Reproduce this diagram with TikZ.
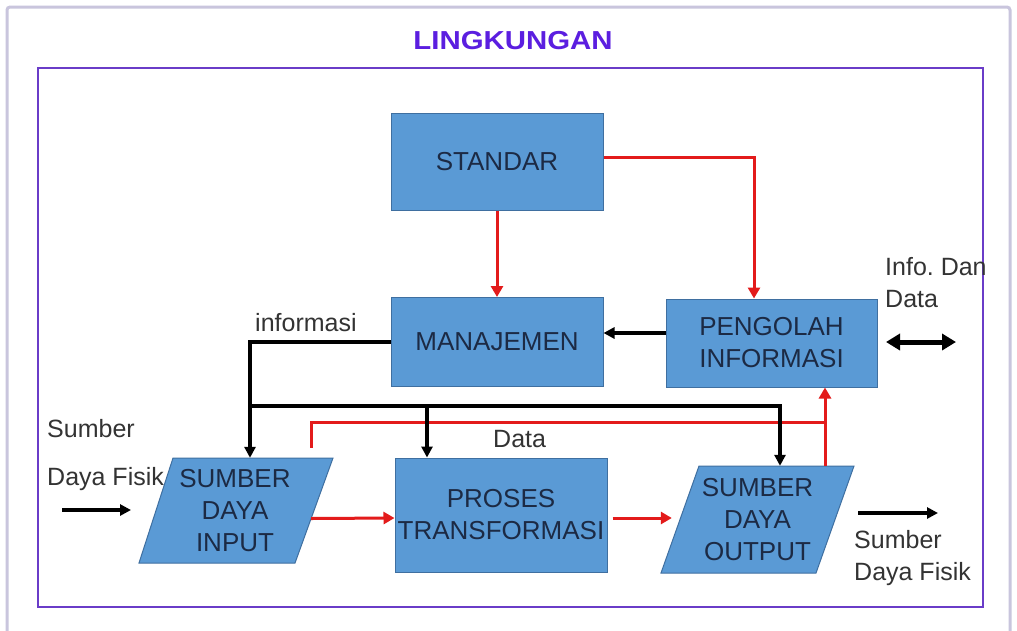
\documentclass[tikz,border=0pt]{standalone}
\usepackage{fontspec}
\usepackage{graphicx}
\setmainfont{Liberation Sans}
\usetikzlibrary{arrows.meta}
\frenchspacing
\definecolor{boxfill}{HTML}{5A9AD5}
\definecolor{boxline}{HTML}{3F6FA0}
\definecolor{boxtext}{HTML}{1C2A44}
\definecolor{lbltext}{HTML}{333333}
\definecolor{redln}{HTML}{E31B1B}
\definecolor{titlecol}{HTML}{5B1EE0}
\definecolor{innerframe}{HTML}{6A3CC8}
\definecolor{outerframe}{HTML}{C9C5DD}
\tikzset{
  blockbox/.style={draw=boxline, line width=1pt, fill=boxfill, inner sep=0pt,
    align=center, text=boxtext, font=\fontsize{26}{32}\selectfont},
  textbox/.style={inner sep=0pt, align=center, text=boxtext, font=\fontsize{26}{32}\selectfont},
  shapefill/.style={draw=boxline, line width=1pt, fill=boxfill},
  lbl/.style={inner sep=0pt, text=lbltext, font=\fontsize{25}{30}\selectfont, anchor=base west},
  blkarrow/.style={draw=black, line width=3.5pt, -{Triangle[length=11pt,width=11pt]}},
  redarrow/.style={draw=redln, line width=3pt, -{Triangle[length=11pt,width=12pt]}},
  redline/.style={draw=redln, line width=3pt},
}
\begin{document}
\begin{tikzpicture}[x=1pt,y=-1pt]
\useasboundingbox (0,0) rectangle (1017,630);
\fill[white] (0,0) rectangle (1017,630);
% frames
\draw[outerframe, line width=3pt, rounded corners=3pt] (7,660) -- (7,7) -- (1010,7) -- (1010,660);
\draw[innerframe, line width=2.2pt] (38,68) rectangle (983,607);
\node[inner sep=0pt, text=titlecol, font=\fontsize{26}{30}\selectfont\bfseries] (title) at (513,41) {\scalebox{1.13}[1]{LINGKUNGAN}};

% parallelograms
\draw[shapefill] (173,458) -- (333,458) -- (295,563) -- (139,563) -- cycle;
\draw[shapefill] (699,466) -- (854,466) -- (816,573) -- (661,573) -- cycle;

% blocks
\node[blockbox, minimum width=212pt, minimum height=97pt] (std) at (497,161.5) {STANDAR};
\node[blockbox, minimum width=212pt, minimum height=89pt] (man) at (497,342) {MANAJEMEN};
\node[blockbox, minimum width=211pt, minimum height=88pt] (peng) at (771.5,343) {PENGOLAH\\INFORMASI};
\node[blockbox, minimum width=212pt, minimum height=114pt] (proc) at (501,515) {PROSES\\TRANSFORMASI};
\node[textbox, minimum width=152pt, minimum height=105pt] (inp) at (235,510.5) {SUMBER\\DAYA\\INPUT};
\node[textbox, minimum width=171pt, minimum height=107pt] (out) at (757.5,519.5) {SUMBER\\DAYA\\OUTPUT};

% labels
\node[lbl] (linfo) at (255,331) {informasi};
\node[lbl] (ldata) at (493,447) {Data};
\node[lbl] (lsum1) at (47,437) {Sumber};
\node[lbl] (ldaya1) at (47,485) {Daya Fisik};
\node[lbl] (lsum2) at (854,548) {Sumber};
\node[lbl] (ldaya2) at (854,580) {Daya Fisik};
\node[lbl] (linfo2) at (885,275) {Info. Dan};
\node[lbl] (ldata2) at (885,307) {Data};

% junction coordinates
\coordinate (j1) at (250,406);
\coordinate (j2) at (427,406);
\coordinate (j3) at (825,422);
\coordinate (inA) at (62,510);
\coordinate (inB) at (131,510);
\coordinate (outA) at (858,513);
\coordinate (outB) at (938,513);
\coordinate (dA) at (886,342);
\coordinate (dB) at (956,342);

% red connectors
\draw[redarrow] ([yshift=4.5pt]std.east) -| ([xshift=-17.5pt]peng.north);
\draw[redarrow] (std.south) -- (man.north);
\draw[redline] ([xshift=76pt,yshift=10pt]inp.north) |- (j3);
\draw[redarrow] ([xshift=67.5pt]out.north) -- ([xshift=53.5pt]peng.south);
\draw[redarrow] ([yshift=-8pt]inp.east) -- ([yshift=-3pt]proc.west);
\draw[redarrow, shorten <=5pt] ([yshift=-3pt]proc.east) -- ([yshift=1.5pt]out.west);

% black connectors
\draw[blkarrow] ([yshift=10pt]peng.west) -- ([yshift=9pt]man.east);
\draw[blkarrow] (man.west) -| ([xshift=15pt]inp.north);
\draw[blkarrow] (j1) -| ([xshift=22.5pt]out.north);
\draw[blkarrow] (j2) -- ([xshift=-74pt]proc.north);
\draw[blkarrow] (inA) -- (inB);
\draw[blkarrow] (outA) -- (outB);
\draw[draw=black, line width=5pt, {Triangle[length=14pt,width=16pt]}-{Triangle[length=14pt,width=16pt]}] (dA) -- (dB);
\end{tikzpicture}
\end{document}
